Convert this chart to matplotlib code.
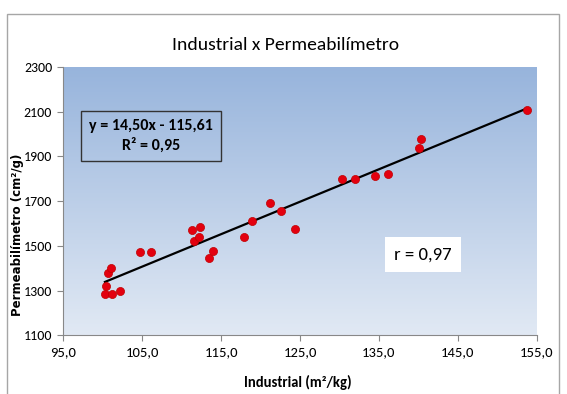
import matplotlib
matplotlib.use('Agg')
import matplotlib.pyplot as plt
import numpy as np
from matplotlib.colors import LinearSegmentedColormap
from matplotlib.patches import Rectangle

# Blaine fineness: industrial value vs permeabilimeter
industrial = [100.28, 101.21, 100.45, 100.70, 101.00, 102.18, 104.76, 106.11,
              111.31, 112.36, 111.56, 112.23, 113.50, 113.97, 117.86, 118.91,
              121.23, 122.55, 124.32, 130.35, 131.96, 134.50, 136.14, 140.07,
              140.29, 153.76]
permeab = [1283, 1283, 1322, 1377, 1399, 1299, 1471, 1471,
           1570, 1582, 1523, 1539, 1447, 1477, 1539, 1611,
           1692, 1657, 1576, 1798, 1798, 1812, 1821, 1935,
           1978, 2107]

slope = 14.50
intercept = -115.61
r2 = 0.95
r = 0.97

xticks = [95, 105, 115, 125, 135, 145, 155]
yticks = [1100, 1300, 1500, 1700, 1900, 2100, 2300]

plt.rcParams['font.family'] = ['Carlito', 'DejaVu Sans']


def fmt(v, d):
    return f'{v:.{d}f}'.replace('.', ',')


fig = plt.figure(figsize=(5.67, 3.94), dpi=100)
fig.patch.set_facecolor('white')
ax = fig.add_axes([0.1116, 0.149, 0.8350, 0.6815])

# plot-area gradient
grad = LinearSegmentedColormap.from_list('bg', ['#e1e9f4', '#97b4dc'])
ax.imshow(np.linspace(0, 1, 256).reshape(-1, 1), cmap=grad, origin='lower',
          extent=[95, 155, 1100, 2300], aspect='auto', zorder=0)

xs = np.array([min(industrial), max(industrial)])
ax.plot(xs, slope * xs + intercept, color='black', lw=1.6, zorder=2)
ax.scatter(industrial, permeab, s=34, color='#e3000f', edgecolors='#c00000',
           linewidths=0.5, zorder=3)

ax.set_xlim(95, 155)
ax.set_ylim(1100, 2300)
ax.set_xticks(xticks)
ax.set_xticklabels([fmt(v, 1) for v in xticks], fontsize=10.5)
ax.set_yticks(yticks)
ax.set_yticklabels([str(v) for v in yticks], fontsize=10)
ax.tick_params(direction='out', length=4, color='#888888', width=0.8, pad=4)
for s in ['top', 'right']:
    ax.spines[s].set_visible(False)
for s in ['left', 'bottom']:
    ax.spines[s].set_color('#888888')
    ax.spines[s].set_linewidth(0.8)

ax.text(0.186, 0.742, f'y = {fmt(slope, 2)}x - {fmt(-intercept, 2)}\nR² = {fmt(r2, 2)}',
        transform=ax.transAxes, ha='center', va='center', fontsize=11.5,
        fontweight='bold', linespacing=1.35,
        bbox=dict(boxstyle='square,pad=0.5', fc='none', ec='#333333', lw=1))
ax.text(0.760, 0.300, f'r = {fmt(r, 2)}', transform=ax.transAxes,
        ha='center', va='center', fontsize=13.5,
        bbox=dict(boxstyle='square,pad=0.5', fc='white', ec='none'))

fig.text(0.503, 0.886, 'Industrial x Permeabilímetro', ha='center', va='center',
         fontsize=14)
fig.text(0.526, 0.028, 'Industrial (m²/kg)', ha='center', va='center',
         fontsize=10.5, fontweight='bold')
fig.text(0.030, 0.404, 'Permeabilímetro (cm²/g)', ha='center', va='center',
         rotation=90, fontsize=8.5, fontweight='bold', family='DejaVu Sans')

# chart frame
fig.add_artist(Rectangle((0.0123, -0.01), 0.9737, 0.9745, transform=fig.transFigure,
                         fill=False, ec='#a6a6a6', lw=1))

fig.savefig('out.png', dpi=100)
